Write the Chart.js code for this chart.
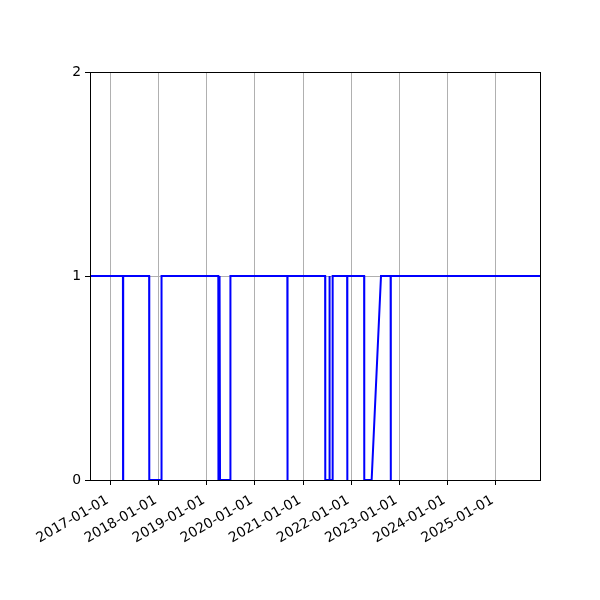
<!DOCTYPE html>
<html>
<head>
<meta charset="utf-8">
<script src="https://cdn.jsdelivr.net/npm/chart.js@4.4.1/dist/chart.umd.min.js"></script>
<style>
  html, body { margin: 0; padding: 0; background: #ffffff; }
  #wrap { width: 600px; height: 600px; }
</style>
</head>
<body>
<div id="wrap"><canvas id="c" width="600" height="600"></canvas></div>
<script>
// ---- data ----
const dates = [
  '2016-07-28', '2017-04-04', '2017-04-05', '2017-04-06',
  '2017-10-20', '2017-10-21', '2018-01-21', '2018-01-22',
  '2019-03-29', '2019-03-30', '2019-04-04', '2019-04-05',
  '2019-04-10', '2019-04-11', '2019-06-28', '2019-06-29',
  '2020-09-03', '2020-09-04', '2020-09-05',
  '2021-06-17', '2021-06-18', '2021-07-18', '2021-07-19',
  '2021-07-21', '2021-07-22', '2021-08-12', '2021-08-13',
  '2021-12-01', '2021-12-02', '2021-12-03',
  '2022-04-09', '2022-04-10', '2022-06-05', '2022-08-15',
  '2022-10-27', '2022-10-28', '2022-10-29',
  '2025-12-04'
];
const values = [
  1, 1, 0, 1,
  1, 0, 0, 1,
  1, 0, 0, 1,
  1, 0, 0, 1,
  1, 0, 1,
  1, 0, 0, 1,
  1, 0, 0, 1,
  1, 0, 1,
  1, 0, 0, 1,
  1, 0, 1,
  1
];
const tickDates = ['2017-01-01', '2018-01-01', '2019-01-01', '2020-01-01',
  '2021-01-01', '2022-01-01', '2023-01-01', '2024-01-01', '2025-01-01'];
const tickLabels = ['2017-01-01', '2018-01-01', '2019-01-01', '2020-01-01',
  '2021-01-01', '2022-01-01', '2023-01-01', '2024-01-01', '2025-01-01'];
const yTicks = [0, 1, 2];
const xStart = '2016-07-28';
const xEnd = '2025-12-04';

// ---- helpers ----
const DAY = 86400000;
const toDay = s => Date.parse(s) / DAY;
const points = dates.map((d, i) => ({ x: toDay(d), y: values[i] }));
const tickValues = tickDates.map(toDay);

const frame = {
  id: 'frame',
  beforeDraw(chart) {
    const ctx = chart.ctx;
    ctx.save();
    ctx.fillStyle = '#ffffff';
    ctx.fillRect(0, 0, chart.width, chart.height);
    ctx.restore();
  },
  afterDatasetsDraw(chart) {
    const a = chart.chartArea, ctx = chart.ctx;
    ctx.save();
    ctx.strokeStyle = '#000000';
    ctx.lineWidth = 1;
    ctx.strokeRect(Math.round(a.left) + 0.5, Math.round(a.top) + 0.5,
      Math.round(a.right - a.left), Math.round(a.bottom - a.top));
    ctx.restore();
  }
};

const font = { family: 'DejaVu Sans', size: 13.9 };

new Chart(document.getElementById('c'), {
  type: 'line',
  data: {
    datasets: [{
      data: points,
      borderColor: '#0000ff',
      borderWidth: 2,
      pointRadius: 0,
      tension: 0,
      fill: false
    }]
  },
  options: {
    responsive: false,
    animation: false,
    events: [],
    layout: { padding: { top: 72, right: 60, left: 0, bottom: 0 } },
    plugins: { legend: { display: false }, tooltip: { enabled: false } },
    scales: {
      x: {
        type: 'linear',
        min: toDay(xStart),
        max: toDay(xEnd),
        afterBuildTicks(scale) {
          scale.ticks = tickValues.map(v => ({ value: v }));
        },
        afterFit(scale) { scale.height = 120; },
        grid: {
          color: '#b0b0b0',
          lineWidth: 1,
          tickColor: '#000000',
          tickLength: 5,
          drawTicks: true
        },
        border: { display: true, color: '#000000', width: 1 },
        ticks: {
          autoSkip: false,
          minRotation: 30,
          maxRotation: 30,
          color: '#000000',
          font: font,
          padding: 7,
          labelOffset: -3,
          callback(value, index) {
            const i = tickValues.indexOf(value);
            return i >= 0 ? tickLabels[i] : '';
          }
        }
      },
      y: {
        type: 'linear',
        min: 0,
        max: 2,
        afterBuildTicks(scale) {
          scale.ticks = yTicks.map(v => ({ value: v }));
        },
        afterFit(scale) { scale.width = 90; },
        grid: {
          color: '#b0b0b0',
          lineWidth: 1,
          tickColor: '#000000',
          tickLength: 5
        },
        border: { display: true, color: '#000000', width: 1 },
        ticks: {
          color: '#000000',
          font: font,
          padding: 4,
          callback(value) { return String(value); }
        }
      }
    }
  },
  plugins: [frame]
});
</script>
</body>
</html>
